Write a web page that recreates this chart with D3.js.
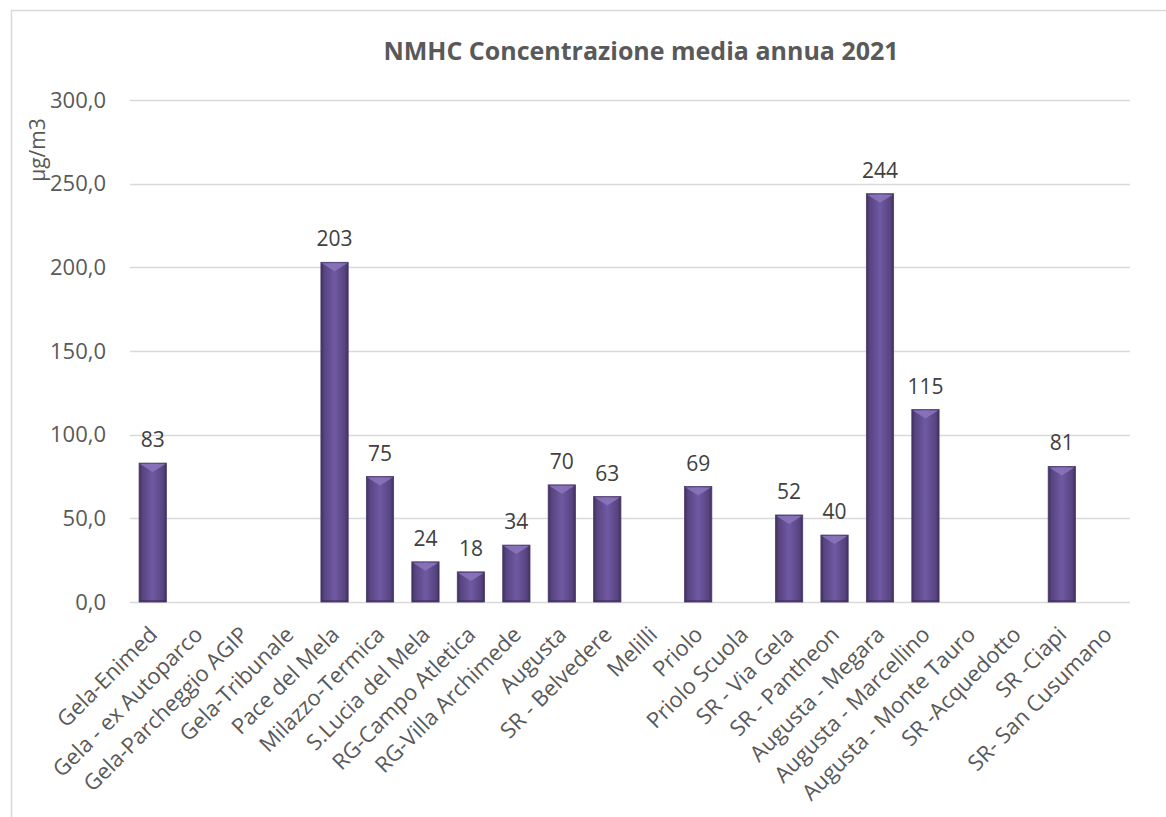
<!DOCTYPE html>
<html>
<head>
<meta charset="utf-8">
<script src="https://cdn.jsdelivr.net/npm/d3@7"></script>
<style>
  html, body { margin: 0; padding: 0; background: #fff; }
  svg { display: block; }
  text { font-family: "Open Sans", "Noto Sans", sans-serif; }
</style>
</head>
<body>
<svg id="chart" width="1166" height="817"></svg>
<script>
// Monitoring stations (x axis)
const stations = [
  "Gela-Enimed", "Gela - ex Autoparco", "Gela-Parcheggio AGIP", "Gela-Tribunale",
  "Pace del Mela", "Milazzo-Termica", "S.Lucia del Mela", "RG-Campo Atletica",
  "RG-Villa Archimede", "Augusta", "SR - Belvedere", "Melilli", "Priolo",
  "Priolo Scuola", "SR - Via Gela", "SR - Pantheon", "Augusta - Megara",
  "Augusta - Marcellino", "Augusta - Monte Tauro", "SR -Acquedotto",
  "SR -Ciapi", "SR- San Cusumano"
];
// Annual mean NMHC concentration (µg/m3); null = no data
const values = [
  83, null, null, null, 203, 75, 24, 18, 34, 70, 63, null, 69,
  null, 52, 40, 244, 115, null, null, 81, null
];
// Y axis ticks
const yTicks = [0, 50, 100, 150, 200, 250, 300];

const titleText = "NMHC Concentrazione media annua 2021";
const unitText = "µg/m3";

const svg = d3.select("#chart");
const plotL = 130, plotR = 1130, plotT = 100, plotB = 602;

// Chart frame
svg.append("rect")
  .attr("x", 11.5).attr("y", 10.5)
  .attr("width", 1180).attr("height", 830)
  .attr("fill", "#fff")
  .attr("stroke", "#d9d9d9").attr("stroke-width", 1.5);

const x = d3.scaleBand().domain(stations).range([plotL, plotR])
  .paddingInner(0.4).paddingOuter(0.2);
const y = d3.scaleLinear().domain([0, 300]).range([plotB, plotT]);

const fmt = v => d3.format(".1f")(v).replace(".", ",");

// Gridlines
svg.append("g").selectAll("line").data(yTicks).join("line")
  .attr("x1", plotL).attr("x2", plotR)
  .attr("y1", d => Math.round(y(d)) + 0.5).attr("y2", d => Math.round(y(d)) + 0.5)
  .attr("stroke", "#d9d9d9").attr("stroke-width", 1.5);

// Y axis tick labels
const yAxis = d3.axisLeft(y).tickValues(yTicks).tickFormat(fmt).tickSize(0).tickPadding(24);
const gy = svg.append("g").attr("transform", `translate(${plotL},0)`).call(yAxis);
gy.select(".domain").remove();
gy.selectAll("text").attr("font-size", 22).attr("fill", "#595959")
  .style("font-family", '"Open Sans", sans-serif');

// Unit label
svg.append("text")
  .attr("transform", `translate(45,150) rotate(-90)`)
  .attr("text-anchor", "middle")
  .attr("font-size", 21).attr("fill", "#595959")
  .text(unitText);

// Bar gradients
const defs = svg.append("defs");
const hg = defs.append("linearGradient").attr("id", "barBody").attr("x1", 0).attr("x2", 1).attr("y1", 0).attr("y2", 0);
[[0, "#3e2f5e"], [0.12, "#57447f"], [0.5, "#7059a3"], [0.88, "#57447f"], [1, "#3e2f5e"]]
  .forEach(([o, c]) => hg.append("stop").attr("offset", o).attr("stop-color", c));

const data = stations.map((s, i) => ({ s, v: values[i] })).filter(d => d.v != null);
const bw = x.bandwidth();

const bars = svg.append("g").selectAll("g").data(data).join("g")
  .attr("transform", d => `translate(${x(d.s)},0)`);

bars.append("rect")
  .attr("x", 0).attr("y", d => y(d.v))
  .attr("width", bw).attr("height", d => y(0) - y(d.v))
  .attr("fill", "url(#barBody)")
  .attr("stroke", "#4a3a6e").attr("stroke-width", 0.8);

// Top bevel: light triangle
bars.append("path")
  .attr("d", d => {
    const t = y(d.v), h = Math.min(9, (y(0) - t));
    return `M1,${t + 1} L${bw - 1},${t + 1} L${bw / 2},${t + h} Z`;
  })
  .attr("fill", "#8a74bb").attr("opacity", 0.9);

// Bottom shadow strip
bars.append("rect")
  .attr("x", 0.5).attr("y", y(0) - 2).attr("width", bw - 1).attr("height", 2)
  .attr("fill", "#3d2f5c").attr("opacity", 0.6);

// Value labels
bars.append("text")
  .attr("x", bw / 2).attr("y", d => y(d.v) - 16)
  .attr("text-anchor", "middle")
  .attr("font-size", 21).attr("fill", "#404040")
  .text(d => d.v);

// X axis labels, rotated
const xAxis = d3.axisBottom(x).tickSize(0).tickPadding(0);
const gx = svg.append("g").attr("transform", `translate(0,${plotB})`).call(xAxis);
gx.select(".domain").remove();
gx.selectAll("text")
  .attr("font-size", 22).attr("fill", "#595959")
  .style("font-family", '"Open Sans", sans-serif')
  .attr("text-anchor", "end")
  .attr("dy", 0)
  .attr("transform", "translate(6,34) rotate(-45)");

// Title
svg.append("text")
  .attr("x", 641).attr("y", 60)
  .attr("text-anchor", "middle")
  .attr("font-size", 25).attr("font-weight", "bold").attr("fill", "#595959")
  .text(titleText);
</script>
</body>
</html>
